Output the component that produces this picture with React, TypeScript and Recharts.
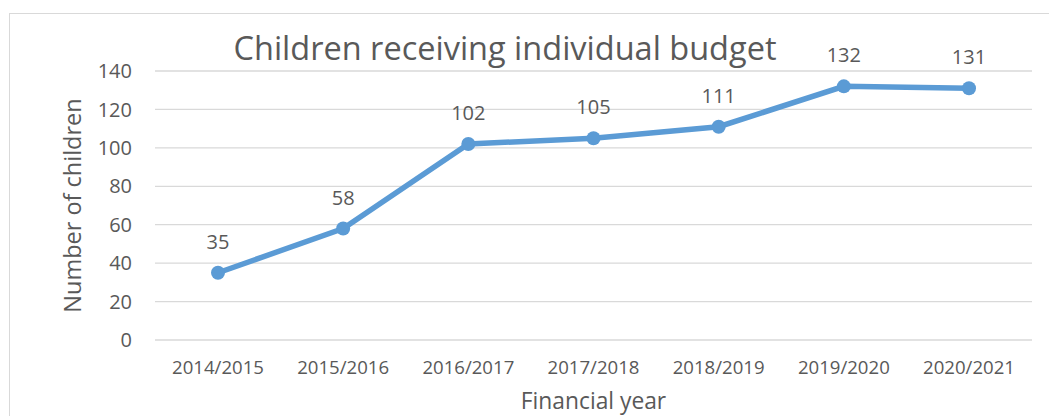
import React from "react";
import { LineChart, Line, XAxis, YAxis, CartesianGrid, LabelList, Label } from "recharts";

const categories = ["2014/2015", "2015/2016", "2016/2017", "2017/2018", "2018/2019", "2019/2020", "2020/2021"];
const childrenValues = [35, 58, 102, 105, 111, 132, 131];
const yTicks = [0, 20, 40, 60, 80, 100, 120, 140];

const data = categories.map((c, i) => ({ year: c, value: childrenValues[i] }));

const FONT = "'Open Sans', sans-serif";
const TEXT = "#595959";

export default function App() {
  return (
    <div style={{ position: "absolute", left: 0, top: 0, width: 1049, height: 416, overflow: "hidden", background: "#fff", fontFamily: FONT }}>
      <div style={{ position: "absolute", left: 9, top: 13, width: 1100, height: 500, border: "1px solid #D9D9D9", boxSizing: "border-box" }} />
      <div style={{ position: "absolute", left: 0, width: 1010, top: 28, textAlign: "center", fontSize: 32.5, color: TEXT, fontFamily: FONT, whiteSpace: "nowrap", lineHeight: "40px" }}>
        Children receiving individual budget
      </div>
      <div style={{ position: "absolute", left: 0, top: 0 }}>
        <LineChart width={1049} height={416} data={data} margin={{ top: 71, right: 17, left: 0, bottom: 0 }}>
          <CartesianGrid vertical={false} stroke="#D9D9D9" strokeWidth={1.3} />
          <XAxis
            dataKey="year"
            height={76}
            axisLine={false}
            tickLine={false}
            tickSize={0}
            tickMargin={21}
            padding={{ left: 63, right: 63 }}
            tick={{ fill: TEXT, fontSize: 18.6, fontFamily: FONT }}
            interval={0}
          >
            <Label value="Financial year" position="insideBottom" offset={7} fill={TEXT} fontSize={22.8} fontFamily={FONT} />
          </XAxis>
          <YAxis
            width={155}
            domain={[0, 140]}
            ticks={yTicks}
            axisLine={false}
            tickLine={false}
            tickSize={0}
            tickMargin={23}
            tick={{ fill: TEXT, fontSize: 20, fontFamily: FONT }}
            interval={0}
          >
            <Label
              content={(props: any) => {
                const vb = props.viewBox || { x: 0, y: 71, width: 155, height: 269 };
                const cx = vb.x + 72;
                const cy = vb.y + vb.height / 2;
                return (
                  <text x={cx} y={cy} transform={`rotate(-90, ${cx}, ${cy})`} textAnchor="middle" dominantBaseline="central" fill={TEXT} fontSize={23.5} fontFamily={FONT}>
                    Number of children
                  </text>
                );
              }}
            />
          </YAxis>
          <Line
            type="linear"
            dataKey="value"
            stroke="#5B9BD5"
            strokeWidth={5.5}
            dot={{ r: 7, fill: "#5B9BD5", stroke: "none" }}
            activeDot={false}
            isAnimationActive={false}
          >
            <LabelList dataKey="value" position="top" offset={24} fill={TEXT} fontSize={20} fontFamily={FONT} />
          </Line>
        </LineChart>
      </div>
    </div>
  );
}
